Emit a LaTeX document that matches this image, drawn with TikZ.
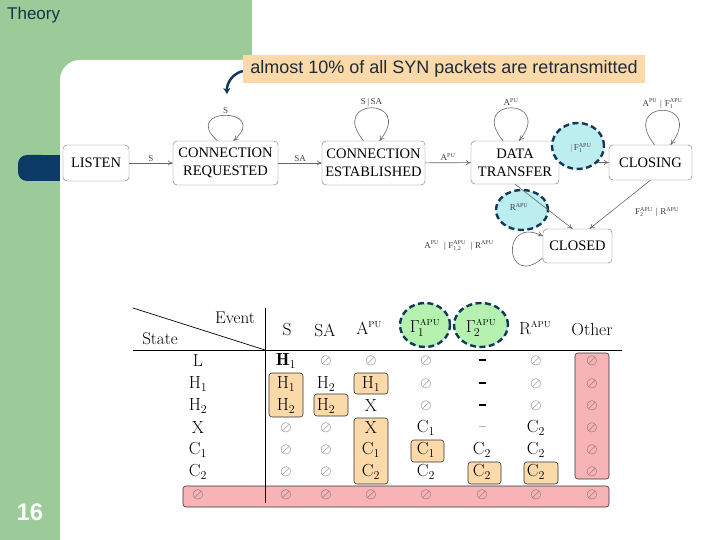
\documentclass[tikz,border=0pt]{standalone}
\usepackage{fontspec}
\usetikzlibrary{arrows.meta,shapes.geometric}
\newfontfamily\slidefont{Liberation Sans}
\newfontfamily\diagfont{Liberation Serif}
\definecolor{slidegreen}{HTML}{9BCB99}
\definecolor{tabblue}{HTML}{0B3B66}
\definecolor{titleblue}{HTML}{17324B}
\definecolor{peach}{HTML}{FBD9A9}
\definecolor{pinkred}{HTML}{F8B3B6}
\definecolor{cyanfill}{HTML}{BDEEEF}
\definecolor{greenfill}{HTML}{B5F1AF}
\definecolor{navy}{HTML}{12395A}
\definecolor{boxgray}{HTML}{707070}
\definecolor{darktext}{HTML}{1E2B38}
\newcommand\FF[2]{F$^{\mbox{\fontsize{6}{6}\selectfont #2}}_{\mbox{\fontsize{6}{6}\selectfont #1}}$}
\newcommand\AS[2]{#1\textsuperscript{#2}}
\newcommand\myN{\textcolor{black!70}{\fontsize{14}{15}\selectfont$\oslash$}}
\newcommand\myD{\rule[0.3ex]{7pt}{1.6pt}}
\newcommand\myDg{\textcolor{black!30}{\rule[0.3ex]{7pt}{0.8pt}}}
\newcommand\mH[1]{$\mathrm{H}_{#1}$}
\newcommand\mC[1]{$\mathrm{C}_{#1}$}
\newcommand\mX{$\mathrm{X}$}
\newcommand\tabrow[9]{%
  \node[cell] (#1c1) at (286,#2) {#3};
  \node[cell] (#1c2) at (326,#2) {#4};
  \node[cell] (#1c3) at (371,#2) {#5};
  \node[cell] (#1c4) at (426,#2) {#6};
  \node[cell] (#1c5) at (482,#2) {#7};
  \node[cell] (#1c6) at (536,#2) {#8};
  \node[cell] (#1c7) at (592,#2) {#9};
}
\begin{document}
\begin{tikzpicture}[x=1pt,y=-1pt,
  stbox/.style={draw=boxgray, rounded corners=4pt, fill=white, font=\diagfont\fontsize{14.5}{18}\selectfont, align=center, inner sep=0pt},
  conn/.style={draw=black!60, line width=0.6pt, -{To[length=5pt,width=5pt]}},
  lab/.style={font=\diagfont\fontsize{9}{10}\selectfont, text=black!75, inner sep=1.5pt},
  hl/.style={ellipse, draw=navy, line width=2.4pt, dash pattern=on 6pt off 3.5pt, inner sep=0pt},
  cell/.style={font=\fontsize{17.5}{19}\selectfont, inner sep=0pt},
  hbox/.style={fill=peach, draw=black!80, rounded corners=3pt, line width=0.6pt},
  rbox/.style={fill=pinkred, draw=black!80, rounded corners=3pt, line width=0.6pt},
  tline/.style={draw=black, line width=0.7pt}]
\useasboundingbox (0,0) rectangle (720,540);
% background
\fill[white] (0,0) rectangle (720,540);
\fill[slidegreen] (0,0) rectangle (252,60);
\fill[slidegreen] (0,0) rectangle (60,540);
\fill[slidegreen] (60,60) rectangle (90,90);
\fill[white, rounded corners=20pt] (60,60) rectangle (760,580);
\fill[tabblue, rounded corners=9pt] (18,155) rectangle (50,181);
\fill[tabblue] (35,155) rectangle (60,181);
\node[anchor=west, font=\slidefont\fontsize{17}{20}\selectfont, text=titleblue, inner sep=0pt] (title) at (7,15) {Theory};
\node[font=\slidefont\bfseries\fontsize{24}{28}\selectfont, text=white] (pg) at (30,512) {16};
% callout
\node[fill=peach, minimum width=402, minimum height=28, inner sep=0pt, font=\slidefont\fontsize{18}{20}\selectfont, text=darktext] (callout) at (444,69) {almost 10\% of all SYN packets are retransmitted};
\coordinate (arrtip) at (227,94);
\draw[navy, line width=2.5pt, -{Stealth[length=6pt,width=7pt]}] ([yshift=-2pt]callout.west) to[out=195,in=92] (arrtip);
% state diagram
\node[stbox, minimum width=66, minimum height=36] (listen) at (96,163) {LISTEN};
\node[stbox, minimum width=105, minimum height=44] (creq) at (225.5,163) {CONNECTION\\REQUESTED};
\node[stbox, minimum width=103, minimum height=44] (cest) at (373.5,163) {CONNECTION\\ESTABLISHED};
\node[stbox, minimum width=88, minimum height=43] (dtr) at (515,162.5) {DATA\\TRANSFER};
\node[stbox, minimum width=83, minimum height=35] (closing) at (650.5,162.5) {CLOSING};
\node[stbox, minimum width=69, minimum height=34] (closed) at (577.5,246) {CLOSED};
\draw[conn] (listen) -- node[lab, above] (l1) {S} (creq);
\draw[conn] (creq) -- node[lab, above] (l2) {SA} (cest);
\draw[conn] (cest) -- node[lab, above] (l3) {\AS{A}{PU}} (dtr);
\draw[conn] (dtr) -- (closing);
\draw[conn] ([xshift=-8pt]creq.north) .. controls +(-38,-34) and +(38,-34) .. ([xshift=8pt]creq.north) node[lab, pos=0.5, above] (l4) {S};
\draw[conn] ([xshift=-10pt]cest.north) .. controls +(-36,-44) and +(36,-44) .. ([xshift=6pt]cest.north) node[lab, pos=0.5, above] (l5) {S\,|\,SA};
\draw[conn] ([xshift=-12pt]dtr.north) .. controls +(-36,-44) and +(36,-44) .. ([xshift=4pt]dtr.north) node[lab, pos=0.5, above] (l6) {\AS{A}{PU}};
\draw[conn] ([xshift=4pt]closing.north) .. controls +(-36,-46) and +(36,-46) .. ([xshift=20pt]closing.north) node[lab, pos=0.5, above] (l7) {\AS{A}{PU}\,\,|\,\,\FF{1}{APU}};
\node[hl, fill=cyanfill, minimum width=52, minimum height=46] (e1) at (578,146) {};
\node[lab] (l8) at (581,148) {\textcolor{black!50}{|}\,\FF{1}{APU}};
\node[hl, fill=cyanfill, minimum width=52, minimum height=40] (e2) at (522,210) {};
\draw[conn] (dtr.south) -- ([xshift=-5pt]closed.north);
\node[lab] (l9) at (519,207) {\AS{R}{APU}};
\draw[conn] (closing.south) -- ([xshift=12pt]closed.north);
\node[lab] (l10) at (657,212) {\FF{2}{APU}\,\,|\,\,\AS{R}{APU}};
\draw[conn] ([yshift=-12pt]closed.west) .. controls +(-38,32) and +(-43,-21) .. ([yshift=10pt]closed.west);
\node[lab] (l11) at (459,246) {\AS{A}{PU}\;\;|\;\FF{1,2}{APU}\;\;|\;\AS{R}{APU}};
% table boxes
\node[hl, fill=greenfill, minimum width=50, minimum height=44] (g1) at (425,325) {};
\node[hl, fill=greenfill, minimum width=54, minimum height=44] (g2) at (481,325) {};
\fill[hbox] (269,373) rectangle (303,417);
\fill[hbox] (314,394) rectangle (348,416);
\fill[hbox] (354,373) rectangle (388,394);
\fill[hbox] (354,418) rectangle (388,484);
\fill[hbox] (411,440) rectangle (444,462);
\fill[hbox] (468,462) rectangle (501,484);
\fill[hbox] (524,462) rectangle (558,484);
\fill[rbox] (575,353) rectangle (609,479);
\fill[rbox] (183,486) rectangle (609,507);
% table lines
\draw[tline] (133,308) -- (265,350);
\draw[tline] (265,308) -- (265,503);
\draw[tline] (133,350) -- (622,350);
% header
\node[cell, font=\fontsize{17}{19}\selectfont] (hev) at (235,318) {Event};
\node[cell, font=\fontsize{17}{19}\selectfont] (hst) at (160,339) {State};
\node[cell] (h1) at (287,330) {S};
\node[cell] (h2) at (325,330) {SA};
\node[cell] (h3) at (369,328) {$\mathrm{A}^{\scriptscriptstyle\mathrm{PU}}$};
\node[cell] (h4) at (425,328) {$\Gamma_{\!1}^{\scriptscriptstyle\mathrm{APU}}$};
\node[cell] (h5) at (481,328) {$\Gamma_{\!2}^{\scriptscriptstyle\mathrm{APU}}$};
\node[cell] (h6) at (535,328) {$\mathrm{R}^{\scriptscriptstyle\mathrm{APU}}$};
\node[cell] (h7) at (592,330) {Other};
% state column
\node[cell] (sL) at (198,361) {L};
\node[cell] (sH1) at (198,384) {\mH{1}};
\node[cell] (sH2) at (198,406) {\mH{2}};
\node[cell] (sX) at (198,428) {\mX};
\node[cell] (sC1) at (198,450) {\mC{1}};
\node[cell] (sC2) at (198,472) {\mC{2}};
\node[cell] (sZ) at (198,495) {\myN};
% rows
\tabrow{rL}{361}{$\mathbf{H}_1$}{\myN}{\myN}{\myN}{\myD}{\myN}{\myN}
\tabrow{rA}{384}{\mH{1}}{\mH{2}}{\mH{1}}{\myN}{\myD}{\myN}{\myN}
\tabrow{rB}{406}{\mH{2}}{\mH{2}}{\mX}{\myN}{\myD}{\myN}{\myN}
\tabrow{rX}{428}{\myN}{\myN}{\mX}{\mC{1}}{\myDg}{\mC{2}}{\myN}
\tabrow{rC}{450}{\myN}{\myN}{\mC{1}}{\mC{1}}{\mC{2}}{\mC{2}}{\myN}
\tabrow{rD}{472}{\myN}{\myN}{\mC{2}}{\mC{2}}{\mC{2}}{\mC{2}}{\myN}
\tabrow{rZ}{495}{\myN}{\myN}{\myN}{\myN}{\myN}{\myN}{\myN}
\end{tikzpicture}
\end{document}
